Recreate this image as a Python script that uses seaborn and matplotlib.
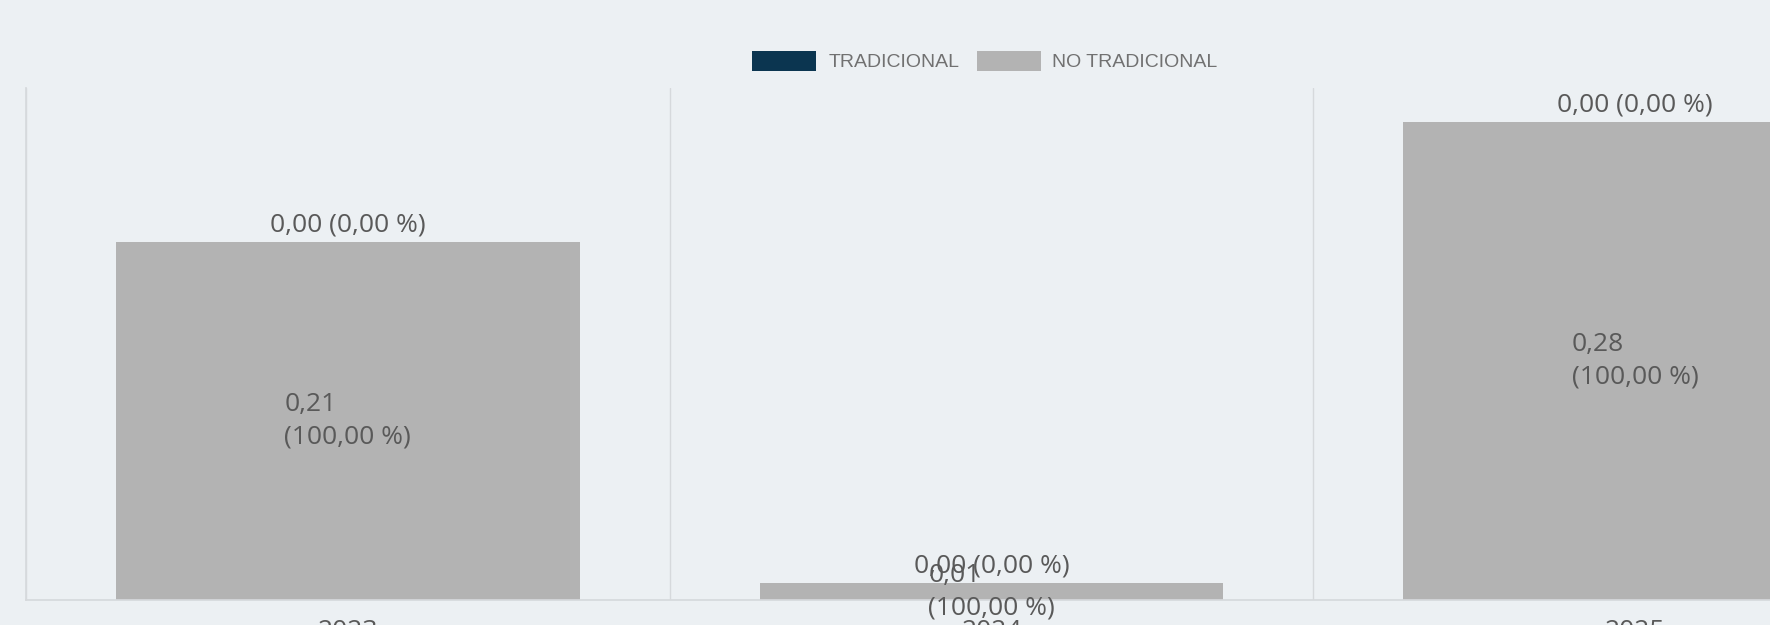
import numpy as np
import pandas as pd
import matplotlib
matplotlib.use("Agg")
import matplotlib.pyplot as plt
import seaborn as sns

# data
years = ["2023", "2024", "2025"]
tradicional = [0.00, 0.00, 0.00]
no_tradicional = [0.21, 0.01, 0.28]

bg = "#ECF0F3"
navy = "#0B3550"
grey_bar = "#B3B3B3"
txt = "#595959"
line_col = "#D6D9DC"

sns.set_theme(style="white")
plt.rcParams["font.family"] = ["Open Sans", "DejaVu Sans"]

df = pd.DataFrame({"year": years, "trad": tradicional, "notrad": no_tradicional})
df["total"] = df["trad"] + df["notrad"]

fig = plt.figure(figsize=(17.7, 6.25), dpi=100, facecolor=bg)
ax = fig.add_axes([26 / 1770, 25 / 625, (1957 - 26) / 1770, 512 / 625])
ax.set_facecolor(bg)

# stacked bars: no tradicional on top of tradicional
sns.barplot(data=df, x="year", y="total", color=grey_bar, width=0.72,
            saturation=1, linewidth=0, ax=ax, label="NO TRADICIONAL")
sns.barplot(data=df, x="year", y="trad", color=navy, width=0.72,
            saturation=1, linewidth=0, ax=ax, label="TRADICIONAL")

ax.set_xlim(-0.5, 2.5)
ax.set_ylim(0, 0.30)
ax.set_xlabel("")
ax.set_ylabel("")
ax.set_yticks([])

# labels
for i, row in df.iterrows():
    tot = row["total"]
    pct_t = 0 if tot == 0 else row["trad"] / tot * 100
    pct_n = 0 if tot == 0 else row["notrad"] / tot * 100
    top_lbl = f"{row['trad']:.2f} ({pct_t:.2f} %)".replace(".", ",")
    in_lbl = f"{row['notrad']:.2f}\n({pct_n:.2f} %)".replace(".", ",")
    ax.annotate(top_lbl, (i, tot), xytext=(0, 3), textcoords="offset points",
                ha="center", va="bottom", fontsize=19, color=txt)
    ax.text(i, row["trad"] + row["notrad"] / 2, in_lbl, ha="center", va="center",
            multialignment="left", fontsize=19, color=txt, linespacing=1.4)

# category separators
ax.set_xticks([-0.5, 0.5, 1.5], minor=True)
ax.grid(which="minor", axis="x", color=line_col, linewidth=1)
ax.tick_params(axis="x", which="minor", length=9, color=line_col, width=1)
ax.tick_params(axis="x", which="major", length=0, pad=14, labelsize=19, labelcolor=txt)

for s in ["top", "right"]:
    ax.spines[s].set_visible(False)
ax.spines["left"].set_color(line_col)
ax.spines["bottom"].set_color(line_col)

handles, labels = ax.get_legend_handles_labels()
order = [labels.index("TRADICIONAL"), labels.index("NO TRADICIONAL")]
leg = fig.legend([handles[k] for k in order], [labels[k] for k in order],
                 loc="center", bbox_to_anchor=(985 / 1770, 1 - 61 / 625),
                 ncol=2, frameon=False, handlelength=3.3,
                 handleheight=1.2, columnspacing=0.9, handletextpad=0.6,
                 prop={"family": ["Liberation Sans", "DejaVu Sans"], "size": 14})
for t in leg.get_texts():
    t.set_color("#717171")
if ax.get_legend() is not None:
    ax.get_legend().remove()

fig.savefig("out.png", dpi=100, facecolor=bg)
